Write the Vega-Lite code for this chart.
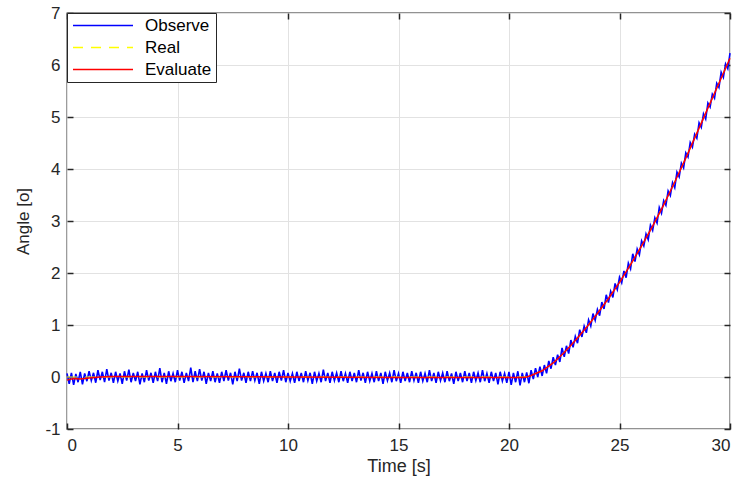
{
"$schema": "https://vega.github.io/schema/vega-lite/v6.json",
"width": 663, "height": 416,
"autosize": "none",
"padding": {"left": 67, "top": 13, "right": 17, "bottom": 54},
"background": "white",
"config": {
 "font": "Liberation Sans",
 "view": {"stroke": "#262626", "strokeWidth": 1.3},
 "axis": {"domain": false, "grid": true, "gridColor": "#e2e2e2", "gridWidth": 1, "tickColor": "#262626", "tickSize": -6, "tickWidth": 1.5, "labelColor": "#262626", "labelFontSize": 17, "labelFont": "Liberation Sans", "titleFont": "Liberation Sans", "titleFontSize": 17, "titleColor": "#262626", "titleFontWeight": "normal", "labelExpr": "'' + datum.value"},
 "legend": {"orient": "top-left", "offset": 0, "padding": 4, "strokeColor": "#262626", "fillColor": "white", "symbolType": "M-6,0H6", "symbolSize": 100, "symbolStrokeWidth": 1.3, "symbolOpacity": 1, "labelFontSize": 17, "labelFont": "Liberation Sans", "labelColor": "#000000", "labelOffset": 57, "rowPadding": 4}
},
"datasets": {
 "obs": [
{"s":"Observe","t":0.0,"v":0.07},{"s":"Observe","t":0.1,"v":-0.13},{"s":"Observe","t":0.2,"v":0.08},{"s":"Observe","t":0.3,"v":-0.15},{"s":"Observe","t":0.4,"v":0.06},{"s":"Observe","t":0.5,"v":-0.1},{"s":"Observe","t":0.6,"v":0.1},{"s":"Observe","t":0.7,"v":-0.14},{"s":"Observe","t":0.8,"v":0.07},{"s":"Observe","t":0.9,"v":-0.08},
{"s":"Observe","t":1.0,"v":0.11},{"s":"Observe","t":1.1,"v":-0.07},{"s":"Observe","t":1.2,"v":0.08},{"s":"Observe","t":1.3,"v":-0.11},{"s":"Observe","t":1.4,"v":0.13},{"s":"Observe","t":1.5,"v":-0.06},{"s":"Observe","t":1.6,"v":0.1},{"s":"Observe","t":1.7,"v":-0.1},{"s":"Observe","t":1.8,"v":0.15},{"s":"Observe","t":1.9,"v":-0.07},
{"s":"Observe","t":2.0,"v":0.08},{"s":"Observe","t":2.1,"v":-0.11},{"s":"Observe","t":2.2,"v":0.1},{"s":"Observe","t":2.3,"v":-0.08},{"s":"Observe","t":2.4,"v":0.07},{"s":"Observe","t":2.5,"v":-0.13},{"s":"Observe","t":2.6,"v":0.11},{"s":"Observe","t":2.7,"v":-0.07},{"s":"Observe","t":2.8,"v":0.14},{"s":"Observe","t":2.9,"v":-0.1},
{"s":"Observe","t":3.0,"v":0.08},{"s":"Observe","t":3.1,"v":-0.08},{"s":"Observe","t":3.2,"v":0.1},{"s":"Observe","t":3.3,"v":-0.14},{"s":"Observe","t":3.4,"v":0.07},{"s":"Observe","t":3.5,"v":-0.1},{"s":"Observe","t":3.6,"v":0.13},{"s":"Observe","t":3.7,"v":-0.07},{"s":"Observe","t":3.8,"v":0.08},{"s":"Observe","t":3.9,"v":-0.11},
{"s":"Observe","t":4.0,"v":0.1},{"s":"Observe","t":4.1,"v":-0.08},{"s":"Observe","t":4.2,"v":0.17},{"s":"Observe","t":4.3,"v":-0.1},{"s":"Observe","t":4.4,"v":0.08},{"s":"Observe","t":4.5,"v":-0.13},{"s":"Observe","t":4.6,"v":0.11},{"s":"Observe","t":4.7,"v":-0.08},{"s":"Observe","t":4.8,"v":0.07},{"s":"Observe","t":4.9,"v":-0.1},
{"s":"Observe","t":5.0,"v":0.13},{"s":"Observe","t":5.1,"v":-0.07},{"s":"Observe","t":5.2,"v":0.1},{"s":"Observe","t":5.3,"v":-0.11},{"s":"Observe","t":5.4,"v":0.08},{"s":"Observe","t":5.5,"v":-0.08},{"s":"Observe","t":5.6,"v":0.18},{"s":"Observe","t":5.7,"v":-0.1},{"s":"Observe","t":5.8,"v":0.11},{"s":"Observe","t":5.9,"v":-0.08},
{"s":"Observe","t":6.0,"v":0.15},{"s":"Observe","t":6.1,"v":-0.07},{"s":"Observe","t":6.2,"v":0.1},{"s":"Observe","t":6.3,"v":-0.13},{"s":"Observe","t":6.4,"v":0.08},{"s":"Observe","t":6.5,"v":-0.08},{"s":"Observe","t":6.6,"v":0.11},{"s":"Observe","t":6.7,"v":-0.1},{"s":"Observe","t":6.8,"v":0.07},{"s":"Observe","t":6.9,"v":-0.11},
{"s":"Observe","t":7.0,"v":0.1},{"s":"Observe","t":7.1,"v":-0.08},{"s":"Observe","t":7.2,"v":0.13},{"s":"Observe","t":7.3,"v":-0.07},{"s":"Observe","t":7.4,"v":0.08},{"s":"Observe","t":7.5,"v":-0.14},{"s":"Observe","t":7.6,"v":0.1},{"s":"Observe","t":7.7,"v":-0.08},{"s":"Observe","t":7.8,"v":0.16},{"s":"Observe","t":7.9,"v":-0.07},
{"s":"Observe","t":8.0,"v":0.08},{"s":"Observe","t":8.1,"v":-0.11},{"s":"Observe","t":8.2,"v":0.1},{"s":"Observe","t":8.3,"v":-0.08},{"s":"Observe","t":8.4,"v":0.11},{"s":"Observe","t":8.5,"v":-0.07},{"s":"Observe","t":8.6,"v":0.08},{"s":"Observe","t":8.7,"v":-0.13},{"s":"Observe","t":8.8,"v":0.1},{"s":"Observe","t":8.9,"v":-0.08},
{"s":"Observe","t":9.0,"v":0.07},{"s":"Observe","t":9.1,"v":-0.1},{"s":"Observe","t":9.2,"v":0.11},{"s":"Observe","t":9.3,"v":-0.08},{"s":"Observe","t":9.4,"v":0.08},{"s":"Observe","t":9.5,"v":-0.11},{"s":"Observe","t":9.6,"v":0.1},{"s":"Observe","t":9.7,"v":-0.07},{"s":"Observe","t":9.8,"v":0.13},{"s":"Observe","t":9.9,"v":-0.1},
{"s":"Observe","t":10.0,"v":0.08},{"s":"Observe","t":10.1,"v":-0.08},{"s":"Observe","t":10.2,"v":0.07},{"s":"Observe","t":10.3,"v":-0.11},{"s":"Observe","t":10.4,"v":0.1},{"s":"Observe","t":10.5,"v":-0.08},{"s":"Observe","t":10.6,"v":0.08},{"s":"Observe","t":10.7,"v":-0.1},{"s":"Observe","t":10.8,"v":0.11},{"s":"Observe","t":10.9,"v":-0.07},
{"s":"Observe","t":11.0,"v":0.08},{"s":"Observe","t":11.1,"v":-0.13},{"s":"Observe","t":11.2,"v":0.1},{"s":"Observe","t":11.3,"v":-0.08},{"s":"Observe","t":11.4,"v":0.07},{"s":"Observe","t":11.5,"v":-0.1},{"s":"Observe","t":11.6,"v":0.14},{"s":"Observe","t":11.7,"v":-0.08},{"s":"Observe","t":11.8,"v":0.08},{"s":"Observe","t":11.9,"v":-0.11},
{"s":"Observe","t":12.0,"v":0.1},{"s":"Observe","t":12.1,"v":-0.07},{"s":"Observe","t":12.2,"v":0.08},{"s":"Observe","t":12.3,"v":-0.1},{"s":"Observe","t":12.4,"v":0.11},{"s":"Observe","t":12.5,"v":-0.08},{"s":"Observe","t":12.6,"v":0.07},{"s":"Observe","t":12.7,"v":-0.11},{"s":"Observe","t":12.8,"v":0.1},{"s":"Observe","t":12.9,"v":-0.08},
{"s":"Observe","t":13.0,"v":0.08},{"s":"Observe","t":13.1,"v":-0.1},{"s":"Observe","t":13.2,"v":0.13},{"s":"Observe","t":13.3,"v":-0.07},{"s":"Observe","t":13.4,"v":0.08},{"s":"Observe","t":13.5,"v":-0.11},{"s":"Observe","t":13.6,"v":0.1},{"s":"Observe","t":13.7,"v":-0.08},{"s":"Observe","t":13.8,"v":0.07},{"s":"Observe","t":13.9,"v":-0.1},
{"s":"Observe","t":14.0,"v":0.11},{"s":"Observe","t":14.1,"v":-0.08},{"s":"Observe","t":14.2,"v":0.08},{"s":"Observe","t":14.3,"v":-0.13},{"s":"Observe","t":14.4,"v":0.1},{"s":"Observe","t":14.5,"v":-0.07},{"s":"Observe","t":14.6,"v":0.08},{"s":"Observe","t":14.7,"v":-0.1},{"s":"Observe","t":14.8,"v":0.13},{"s":"Observe","t":14.9,"v":-0.08},
{"s":"Observe","t":15.0,"v":0.07},{"s":"Observe","t":15.1,"v":-0.11},{"s":"Observe","t":15.2,"v":0.1},{"s":"Observe","t":15.3,"v":-0.08},{"s":"Observe","t":15.4,"v":0.08},{"s":"Observe","t":15.5,"v":-0.1},{"s":"Observe","t":15.6,"v":0.11},{"s":"Observe","t":15.7,"v":-0.07},{"s":"Observe","t":15.8,"v":0.08},{"s":"Observe","t":15.9,"v":-0.11},
{"s":"Observe","t":16.0,"v":0.1},{"s":"Observe","t":16.1,"v":-0.08},{"s":"Observe","t":16.2,"v":0.07},{"s":"Observe","t":16.3,"v":-0.1},{"s":"Observe","t":16.4,"v":0.13},{"s":"Observe","t":16.5,"v":-0.08},{"s":"Observe","t":16.6,"v":0.08},{"s":"Observe","t":16.7,"v":-0.11},{"s":"Observe","t":16.8,"v":0.1},{"s":"Observe","t":16.9,"v":-0.07},
{"s":"Observe","t":17.0,"v":0.08},{"s":"Observe","t":17.1,"v":-0.1},{"s":"Observe","t":17.2,"v":0.11},{"s":"Observe","t":17.3,"v":-0.08},{"s":"Observe","t":17.4,"v":0.07},{"s":"Observe","t":17.5,"v":-0.13},{"s":"Observe","t":17.6,"v":0.1},{"s":"Observe","t":17.7,"v":-0.08},{"s":"Observe","t":17.8,"v":0.08},{"s":"Observe","t":17.9,"v":-0.1},
{"s":"Observe","t":18.0,"v":0.11},{"s":"Observe","t":18.1,"v":-0.08},{"s":"Observe","t":18.2,"v":0.08},{"s":"Observe","t":18.3,"v":-0.11},{"s":"Observe","t":18.4,"v":0.1},{"s":"Observe","t":18.5,"v":-0.07},{"s":"Observe","t":18.6,"v":0.08},{"s":"Observe","t":18.7,"v":-0.1},{"s":"Observe","t":18.8,"v":0.13},{"s":"Observe","t":18.9,"v":-0.08},
{"s":"Observe","t":19.0,"v":0.07},{"s":"Observe","t":19.1,"v":-0.11},{"s":"Observe","t":19.2,"v":0.1},{"s":"Observe","t":19.3,"v":-0.08},{"s":"Observe","t":19.4,"v":0.08},{"s":"Observe","t":19.5,"v":-0.14},{"s":"Observe","t":19.6,"v":0.1},{"s":"Observe","t":19.7,"v":-0.08},{"s":"Observe","t":19.8,"v":0.07},{"s":"Observe","t":19.9,"v":-0.11},
{"s":"Observe","t":20.0,"v":0.1},{"s":"Observe","t":20.1,"v":-0.15},{"s":"Observe","t":20.2,"v":0.08},{"s":"Observe","t":20.3,"v":-0.1},{"s":"Observe","t":20.4,"v":0.11},{"s":"Observe","t":20.5,"v":-0.16},{"s":"Observe","t":20.6,"v":0.08},{"s":"Observe","t":20.7,"v":-0.1},{"s":"Observe","t":20.8,"v":0.09},{"s":"Observe","t":20.9,"v":-0.12},
{"s":"Observe","t":21.0,"v":0.13},{"s":"Observe","t":21.1,"v":-0.04},{"s":"Observe","t":21.2,"v":0.17},{"s":"Observe","t":21.3,"v":0.0},{"s":"Observe","t":21.4,"v":0.2},{"s":"Observe","t":21.5,"v":0.02},{"s":"Observe","t":21.6,"v":0.23},{"s":"Observe","t":21.7,"v":0.07},{"s":"Observe","t":21.8,"v":0.31},{"s":"Observe","t":21.9,"v":0.16},
{"s":"Observe","t":22.0,"v":0.38},{"s":"Observe","t":22.1,"v":0.23},{"s":"Observe","t":22.2,"v":0.43},{"s":"Observe","t":22.3,"v":0.29},{"s":"Observe","t":22.4,"v":0.56},{"s":"Observe","t":22.5,"v":0.39},{"s":"Observe","t":22.6,"v":0.6},{"s":"Observe","t":22.7,"v":0.45},{"s":"Observe","t":22.8,"v":0.71},{"s":"Observe","t":22.9,"v":0.57},
{"s":"Observe","t":23.0,"v":0.78},{"s":"Observe","t":23.1,"v":0.65},{"s":"Observe","t":23.2,"v":0.91},{"s":"Observe","t":23.3,"v":0.77},{"s":"Observe","t":23.4,"v":0.98},{"s":"Observe","t":23.5,"v":0.85},{"s":"Observe","t":23.6,"v":1.1},{"s":"Observe","t":23.7,"v":0.98},{"s":"Observe","t":23.8,"v":1.22},{"s":"Observe","t":23.9,"v":1.09},
{"s":"Observe","t":24.0,"v":1.3},{"s":"Observe","t":24.1,"v":1.18},{"s":"Observe","t":24.2,"v":1.44},{"s":"Observe","t":24.3,"v":1.31},{"s":"Observe","t":24.4,"v":1.58},{"s":"Observe","t":24.5,"v":1.43},{"s":"Observe","t":24.6,"v":1.65},{"s":"Observe","t":24.7,"v":1.53},{"s":"Observe","t":24.8,"v":1.8},{"s":"Observe","t":24.9,"v":1.68},
{"s":"Observe","t":25.0,"v":1.92},{"s":"Observe","t":25.1,"v":1.81},{"s":"Observe","t":25.2,"v":2.04},{"s":"Observe","t":25.3,"v":1.91},{"s":"Observe","t":25.4,"v":2.19},{"s":"Observe","t":25.5,"v":2.08},{"s":"Observe","t":25.6,"v":2.37},{"s":"Observe","t":25.7,"v":2.22},{"s":"Observe","t":25.8,"v":2.46},{"s":"Observe","t":25.9,"v":2.35},
{"s":"Observe","t":26.0,"v":2.62},{"s":"Observe","t":26.1,"v":2.52},{"s":"Observe","t":26.2,"v":2.75},{"s":"Observe","t":26.3,"v":2.64},{"s":"Observe","t":26.4,"v":2.92},{"s":"Observe","t":26.5,"v":2.82},{"s":"Observe","t":26.6,"v":3.06},{"s":"Observe","t":26.7,"v":2.96},{"s":"Observe","t":26.8,"v":3.26},{"s":"Observe","t":26.9,"v":3.15},
{"s":"Observe","t":27.0,"v":3.39},{"s":"Observe","t":27.1,"v":3.3},{"s":"Observe","t":27.2,"v":3.58},{"s":"Observe","t":27.3,"v":3.49},{"s":"Observe","t":27.4,"v":3.74},{"s":"Observe","t":27.5,"v":3.64},{"s":"Observe","t":27.6,"v":3.94},{"s":"Observe","t":27.7,"v":3.85},{"s":"Observe","t":27.8,"v":4.11},{"s":"Observe","t":27.9,"v":4.02},
{"s":"Observe","t":28.0,"v":4.31},{"s":"Observe","t":28.1,"v":4.23},{"s":"Observe","t":28.2,"v":4.51},{"s":"Observe","t":28.3,"v":4.42},{"s":"Observe","t":28.4,"v":4.67},{"s":"Observe","t":28.5,"v":4.59},{"s":"Observe","t":28.6,"v":4.89},{"s":"Observe","t":28.7,"v":4.8},{"s":"Observe","t":28.8,"v":5.06},{"s":"Observe","t":28.9,"v":4.96},
{"s":"Observe","t":29.0,"v":5.27},{"s":"Observe","t":29.1,"v":5.19},{"s":"Observe","t":29.2,"v":5.44},{"s":"Observe","t":29.3,"v":5.36},{"s":"Observe","t":29.4,"v":5.65},{"s":"Observe","t":29.5,"v":5.57},{"s":"Observe","t":29.6,"v":5.86},{"s":"Observe","t":29.7,"v":5.76},{"s":"Observe","t":29.8,"v":6.02},{"s":"Observe","t":29.9,"v":5.93},
{"s":"Observe","t":30.0,"v":6.23}
 ],
 "real": [
{"s":"Real","t":0,"v":0},{"s":"Real","t":20.6,"v":0},{"s":"Real","t":20.8,"v":0.005},{"s":"Real","t":21,"v":0.03},{"s":"Real","t":21.5,"v":0.12},{"s":"Real","t":22,"v":0.27},{"s":"Real","t":22.5,"v":0.47},{"s":"Real","t":23,"v":0.7},{"s":"Real","t":23.5,"v":0.95},{"s":"Real","t":24,"v":1.22},{"s":"Real","t":24.5,"v":1.51},{"s":"Real","t":25,"v":1.82},{"s":"Real","t":25.5,"v":2.16},{"s":"Real","t":26,"v":2.52},{"s":"Real","t":26.5,"v":2.9},{"s":"Real","t":27,"v":3.31},{"s":"Real","t":27.5,"v":3.75},{"s":"Real","t":28,"v":4.21},{"s":"Real","t":28.5,"v":4.69},{"s":"Real","t":29,"v":5.17},{"s":"Real","t":29.5,"v":5.65},{"s":"Real","t":30,"v":6.13}
 ],
 "est": [
{"s":"Evaluate","t":0,"v":-0.06},{"s":"Evaluate","t":0.3,"v":-0.03},{"s":"Evaluate","t":0.6,"v":-0.04},{"s":"Evaluate","t":1,"v":-0.02},{"s":"Evaluate","t":1.5,"v":0.0},{"s":"Evaluate","t":2,"v":0.01},{"s":"Evaluate","t":5,"v":0.01},{"s":"Evaluate","t":10,"v":0.0},{"s":"Evaluate","t":15,"v":-0.01},{"s":"Evaluate","t":20.6,"v":-0.01},{"s":"Evaluate","t":20.8,"v":0.0},{"s":"Evaluate","t":21,"v":0.03},{"s":"Evaluate","t":21.5,"v":0.12},{"s":"Evaluate","t":22,"v":0.27},{"s":"Evaluate","t":22.5,"v":0.47},{"s":"Evaluate","t":23,"v":0.7},{"s":"Evaluate","t":23.5,"v":0.95},{"s":"Evaluate","t":24,"v":1.22},{"s":"Evaluate","t":24.5,"v":1.51},{"s":"Evaluate","t":25,"v":1.82},{"s":"Evaluate","t":25.5,"v":2.16},{"s":"Evaluate","t":26,"v":2.52},{"s":"Evaluate","t":26.5,"v":2.9},{"s":"Evaluate","t":27,"v":3.31},{"s":"Evaluate","t":27.5,"v":3.75},{"s":"Evaluate","t":28,"v":4.21},{"s":"Evaluate","t":28.5,"v":4.69},{"s":"Evaluate","t":29,"v":5.17},{"s":"Evaluate","t":29.5,"v":5.65},{"s":"Evaluate","t":30,"v":6.13}
 ]
},
"layer": [
 {"data": {"name": "obs"}, "mark": {"type": "line", "strokeWidth": 1.6},
  "encoding": {
   "x": {"field": "t", "type": "quantitative", "scale": {"domain": [0, 30], "nice": false}, "axis": {"orient": "bottom", "title": "Time [s]", "titleFontSize": 18, "values": [0,5,10,15,20,25,30], "labelPadding": 14, "titlePadding": 4}},
   "y": {"field": "v", "type": "quantitative", "scale": {"domain": [-1, 7], "nice": false}, "axis": {"orient": "left", "title": "Angle [o]", "values": [-1,0,1,2,3,4,5,6,7], "labelPadding": 13, "titlePadding": 12}},
   "color": {"field": "s", "type": "nominal", "scale": {"domain": ["Observe", "Real", "Evaluate"], "range": ["#0000ff", "#ffff00", "#ff0000"]},
     "legend": {"title": null, "encode": {"symbols": {"update": {"x": {"value": 32}, "opacity": {"value": 1}, "stroke": {"signal": "datum.value === 'Observe' ? '#0000ff' : datum.value === 'Real' ? '#ffff00' : '#ff0000'"}, "strokeDash": {"signal": "datum.value === 'Real' ? [10, 8] : [100, 0]"}}}}}}
  }},
 {"data": {"name": "real"}, "mark": {"type": "line", "strokeWidth": 1, "strokeDash": [10, 8]},
  "encoding": {
   "x": {"field": "t", "type": "quantitative", "axis": null},
   "y": {"field": "v", "type": "quantitative", "axis": null},
   "color": {"field": "s", "type": "nominal"}
  }},
 {"data": {"name": "est"}, "mark": {"type": "line", "strokeWidth": 1.5},
  "encoding": {
   "x": {"field": "t", "type": "quantitative", "axis": null},
   "y": {"field": "v", "type": "quantitative", "axis": null},
   "color": {"field": "s", "type": "nominal"}
  }},
 {"data": {"name": "est"}, "mark": {"type": "line", "opacity": 0},
  "encoding": {
   "x": {"field": "t", "type": "quantitative", "axis": {"orient": "top", "labels": false, "title": null, "grid": false, "values": [0,5,10,15,20,25,30]}},
   "y": {"field": "v", "type": "quantitative", "axis": {"orient": "right", "labels": false, "title": null, "grid": false, "values": [-1,0,1,2,3,4,5,6,7]}}
  }}
]
}
